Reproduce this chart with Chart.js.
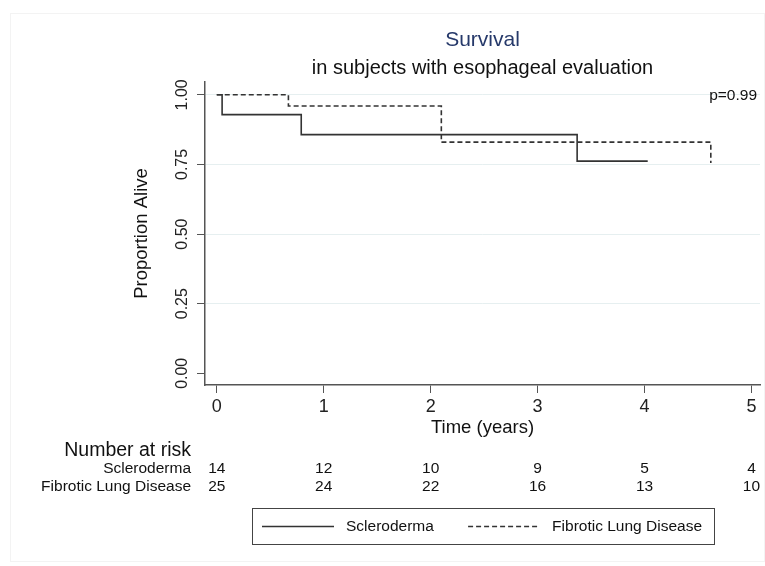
<!DOCTYPE html>
<html>
<head>
<meta charset="utf-8">
<script src="https://cdn.jsdelivr.net/npm/chart.js@4.4.1/dist/chart.umd.min.js"></script>
<style>
  html, body { margin: 0; padding: 0; background: #fff; }
</style>
</head>
<body>
<canvas id="km" width="765" height="566"></canvas>
<script>
// survival curves (time in years, proportion alive)
const timeTicks = [0, 1, 2, 3, 4, 5];
const survTicks = [0, 0.25, 0.5, 0.75, 1];
const survTickLabels = ["0.00", "0.25", "0.50", "0.75", "1.00"];
const sclerodermaTime = [0, 0.05, 0.79, 3.37, 4.03];
const sclerodermaSurv = [1, 0.929, 0.857, 0.762, 0.762];
const fibroticTime = [0, 0.67, 2.1, 4.62];
const fibroticSurv = [1, 0.96, 0.83, 0.755];
const groupNames = ["Scleroderma", "Fibrotic Lung Disease"];
const riskScleroderma = [14, 12, 10, 9, 5, 4];
const riskFibrotic = [25, 24, 22, 16, 13, 10];
const pValueLabel = "p=0.99";

const FONT = "'Liberation Sans', Arial, Helvetica, sans-serif";
const lineColor = "#333";

function toPoints(xs, ys) {
    return xs.map((x, i) => ({ x: x, y: ys[i] }));
}

// titles, rotated y labels, p-value, risk table and legend box
const extras = {
    id: "extras",
    beforeDraw(chart) {
        const c = chart.ctx;
        c.save();
        c.fillStyle = "#fff";
        c.fillRect(0, 0, chart.width, chart.height);
        c.strokeStyle = "#f3f3f3";
        c.lineWidth = 1;
        c.strokeRect(10.5, 13.5, 754, 548);
        c.restore();
    },
    afterDraw(chart) {
        const c = chart.ctx;
        const area = chart.chartArea;
        const xs = chart.scales.x;
        const ys = chart.scales.y;
        const midX = (area.left + area.right) / 2;
        c.save();

        c.textAlign = "center";
        c.textBaseline = "middle";
        c.fillStyle = "#26396a";
        c.font = "21px " + FONT;
        c.fillText("Survival", midX, 40);
        c.fillStyle = "#111";
        c.font = "20px " + FONT;
        c.fillText("in subjects with esophageal evaluation", midX, 68);

        // y tick labels, rotated like the original
        c.font = "16px " + FONT;
        c.fillStyle = "#222";
        survTicks.forEach((v, i) => {
            const py = ys.getPixelForValue(v);
            c.save();
            c.translate(187, py);
            c.rotate(-Math.PI / 2);
            c.textAlign = "center";
            c.textBaseline = "alphabetic";
            c.fillText(survTickLabels[i], 0, 0);
            c.restore();
        });

        // p-value
        c.font = "15.5px " + FONT;
        c.textAlign = "right";
        c.textBaseline = "middle";
        c.fillStyle = "#111";
        c.fillText(pValueLabel, 757, ys.getPixelForValue(1) + 1);

        // number at risk
        c.font = "19.5px " + FONT;
        c.textAlign = "right";
        c.fillText("Number at risk", 191, 451);
        c.font = "15.5px " + FONT;
        c.fillText(groupNames[0], 191, 469);
        c.fillText(groupNames[1], 191, 487);
        c.textAlign = "center";
        timeTicks.forEach((t, i) => {
            const px = xs.getPixelForValue(t);
            c.fillText(String(riskScleroderma[i]), px, 469);
            c.fillText(String(riskFibrotic[i]), px, 487);
        });

        // legend box
        c.strokeStyle = "#444";
        c.lineWidth = 1;
        c.strokeRect(252.5, 508.5, 462, 36);
        const ky = 526.5;
        c.strokeStyle = lineColor;
        c.lineWidth = 1.6;
        c.beginPath();
        c.moveTo(262, ky);
        c.lineTo(334, ky);
        c.stroke();
        c.font = "15.5px " + FONT;
        c.textAlign = "left";
        c.fillStyle = "#111";
        c.fillText(groupNames[0], 346, ky);
        const w2 = c.measureText(groupNames[1]).width;
        const tx2 = 702 - w2;
        c.fillText(groupNames[1], tx2, ky);
        c.setLineDash([5, 3]);
        c.beginPath();
        c.moveTo(tx2 - 84, ky);
        c.lineTo(tx2 - 12, ky);
        c.stroke();
        c.restore();
    }
};

new Chart(document.getElementById("km"), {
    type: "line",
    data: {
        datasets: [
            {
                label: groupNames[0],
                data: toPoints(sclerodermaTime, sclerodermaSurv),
                stepped: true,
                borderColor: lineColor,
                borderWidth: 1.6,
                pointRadius: 0,
                fill: false
            },
            {
                label: groupNames[1],
                data: toPoints(fibroticTime, fibroticSurv),
                stepped: true,
                borderColor: lineColor,
                borderWidth: 1.6,
                borderDash: [5, 3],
                pointRadius: 0,
                fill: false
            }
        ]
    },
    options: {
        responsive: false,
        animation: false,
        devicePixelRatio: 1,
        layout: { padding: { left: 130, right: 5, top: 82, bottom: 123 } },
        plugins: {
            legend: { display: false },
            tooltip: { enabled: false }
        },
        scales: {
            x: {
                type: "linear",
                min: -0.11,
                max: 5.08,
                afterBuildTicks: s => { s.ticks = timeTicks.map(v => ({ value: v })); },
                afterFit: s => { s.height = 58; },
                grid: { drawOnChartArea: false, tickLength: 8, tickColor: "#555" },
                border: { color: "#555", width: 1.5 },
                ticks: { font: { family: FONT, size: 18 }, color: "#222", padding: 3 },
                title: {
                    display: true,
                    text: "Time (years)",
                    font: { family: FONT, size: 18.5 },
                    color: "#111",
                    padding: { top: 0, bottom: 4 }
                }
            },
            y: {
                type: "linear",
                min: -0.042,
                max: 1.046,
                afterBuildTicks: s => { s.ticks = survTicks.map(v => ({ value: v })); },
                afterFit: s => { s.width = 75; },
                grid: {
                    color: ctx => (ctx.tick && ctx.tick.value === 0 ? "rgba(0,0,0,0)" : "#e6eff0"),
                    tickLength: 8,
                    tickColor: "#555"
                },
                border: { color: "#555", width: 1.5 },
                ticks: { display: false },
                title: {
                    display: true,
                    text: "Proportion Alive",
                    font: { family: FONT, size: 18.5 },
                    color: "#111",
                    padding: { top: 1, bottom: 0 }
                }
            }
        }
    },
    plugins: [extras]
});
</script>
</body>
</html>
